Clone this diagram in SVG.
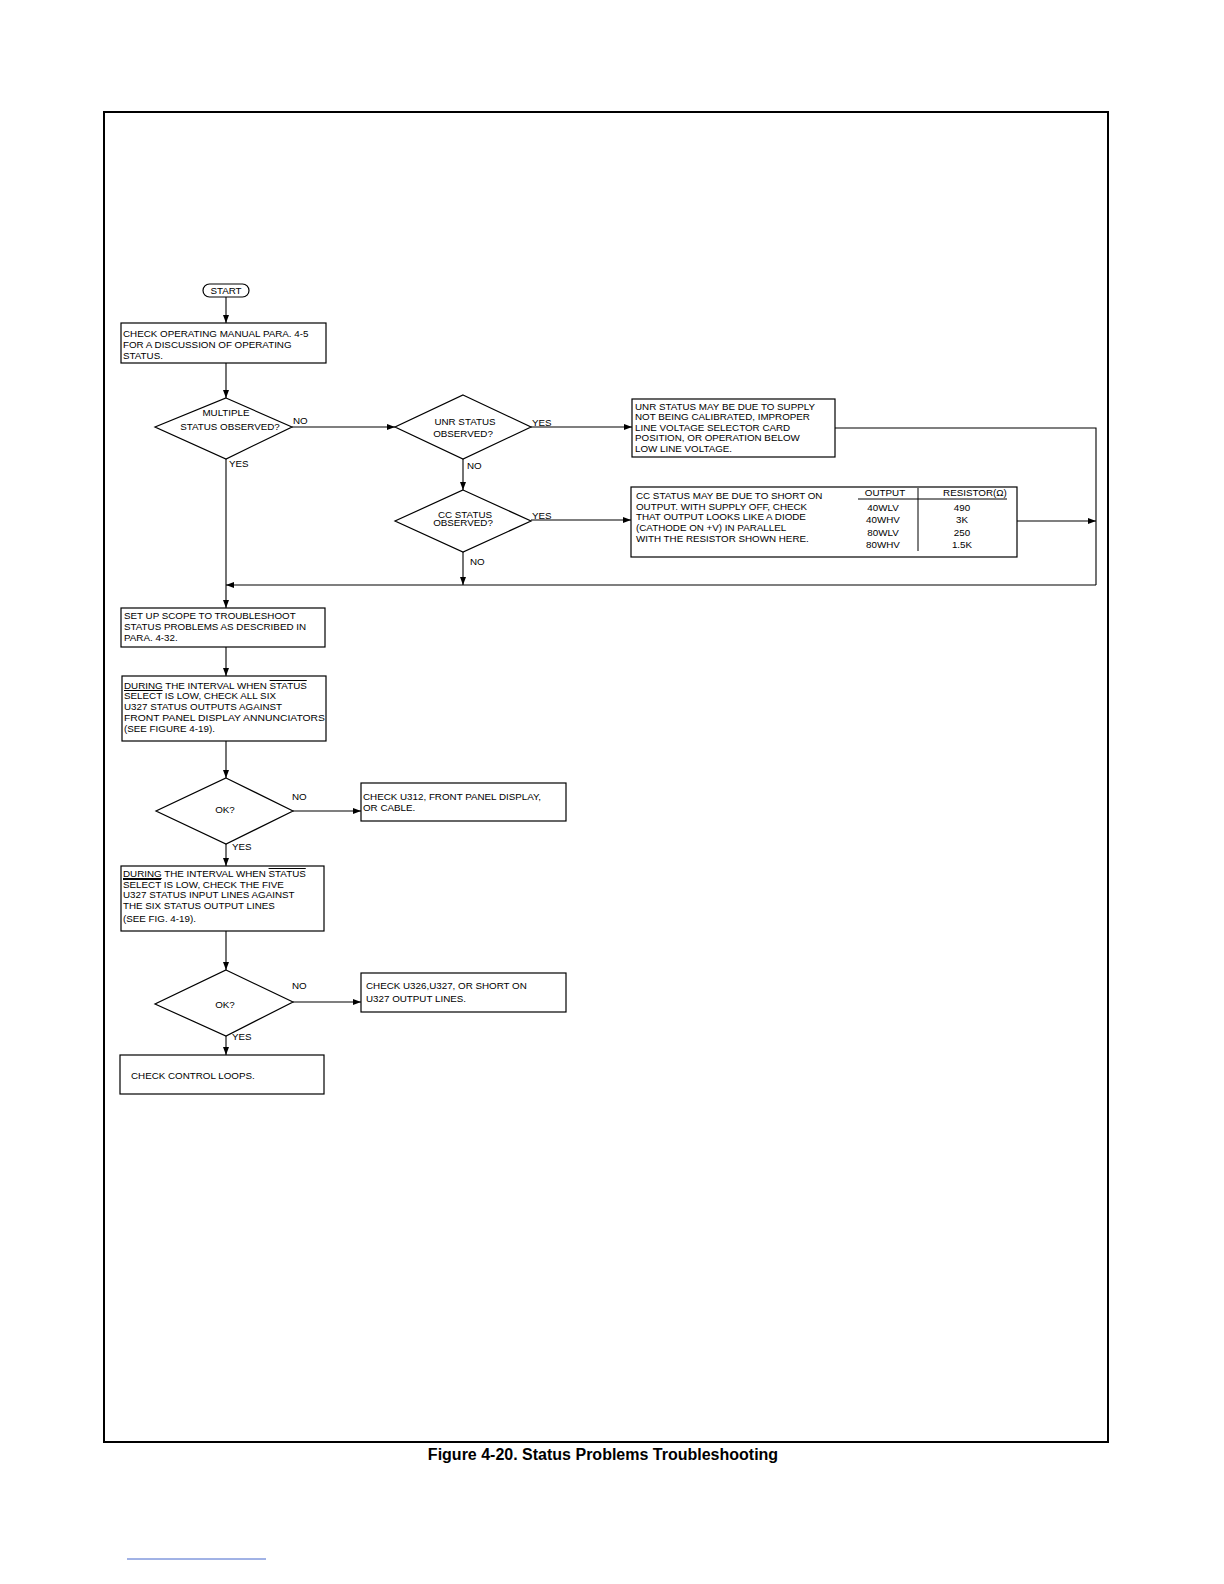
<svg xmlns="http://www.w3.org/2000/svg" width="1224" height="1584" viewBox="0 0 1224 1584">
<defs>
<marker id="ar" viewBox="0 0 8 6" refX="8" refY="3" markerWidth="8" markerHeight="6" orient="auto" markerUnits="userSpaceOnUse"><path d="M0,0 L8,3 L0,6 z" fill="#000"/></marker>
<style>
.b{fill:#fff;stroke:#000;stroke-width:1.2}
.c{fill:none;stroke:#000;stroke-width:1.1}
text{font-family:"Liberation Sans",Arial,sans-serif;font-size:9.8px;fill:#000}
.m{text-anchor:middle}
.cap{font-size:16px;font-weight:bold}
</style>
</defs>
<rect width="1224" height="1584" fill="#fff"/>
<rect x="104" y="112" width="1004" height="1330" fill="none" stroke="#000" stroke-width="2"/>
<text class="cap m" x="603" y="1460">Figure 4-20. Status Problems Troubleshooting</text>
<line x1="127" y1="1559" x2="266" y2="1559" stroke="#4466cc" stroke-width="1"/>

<g id="connectors">
<line class="c" x1="226" y1="297" x2="226" y2="323" marker-end="url(#ar)"/>
<line class="c" x1="226" y1="363" x2="226" y2="398" marker-end="url(#ar)"/>
<line class="c" x1="292" y1="427" x2="395" y2="427" marker-end="url(#ar)"/>
<line class="c" x1="531" y1="427" x2="632" y2="427" marker-end="url(#ar)"/>
<polyline class="c" points="835,428 1096,428 1096,585"/>
<line class="c" x1="463" y1="459" x2="463" y2="490" marker-end="url(#ar)"/>
<line class="c" x1="531" y1="520" x2="631" y2="520" marker-end="url(#ar)"/>
<line class="c" x1="1017" y1="521" x2="1096" y2="521" marker-end="url(#ar)"/>
<line class="c" x1="1096" y1="585" x2="226" y2="585" marker-end="url(#ar)"/>
<line class="c" x1="463" y1="552" x2="463" y2="585" marker-end="url(#ar)"/>
<line class="c" x1="226" y1="459" x2="226" y2="608" marker-end="url(#ar)"/>
<line class="c" x1="226" y1="647" x2="226" y2="676" marker-end="url(#ar)"/>
<line class="c" x1="226" y1="741" x2="226" y2="778" marker-end="url(#ar)"/>
<line class="c" x1="293" y1="811" x2="361" y2="811" marker-end="url(#ar)"/>
<line class="c" x1="226" y1="844" x2="226" y2="866" marker-end="url(#ar)"/>
<line class="c" x1="226" y1="931" x2="226" y2="970" marker-end="url(#ar)"/>
<line class="c" x1="293" y1="1002" x2="361" y2="1002" marker-end="url(#ar)"/>
<line class="c" x1="226" y1="1036" x2="226" y2="1055" marker-end="url(#ar)"/>
</g>

<g id="start"><rect class="b" x="203" y="284" width="46" height="13" rx="6.5"/><text class="m" x="226" y="294">START</text></g>

<g id="box1"><rect class="b" x="121" y="323" width="205" height="40"/>
<text x="123" y="337">CHECK OPERATING MANUAL PARA. 4-5</text>
<text x="123" y="348">FOR A DISCUSSION OF OPERATING</text>
<text x="123" y="359">STATUS.</text></g>

<g id="dMultiple"><polygon class="b" points="226,398 292,427 226,459 155,427"/>
<text class="m" x="226" y="416">MULTIPLE</text><text class="m" x="230" y="430">STATUS OBSERVED?</text></g>

<g id="dUnr"><polygon class="b" points="463,395 531,427 463,459 395,427"/>
<text class="m" x="465" y="425">UNR STATUS</text><text class="m" x="463" y="437">OBSERVED?</text></g>

<g id="boxUnr"><rect class="b" x="632" y="399" width="203" height="58"/>
<text x="635" y="410">UNR STATUS MAY BE DUE TO SUPPLY</text>
<text x="635" y="420">NOT BEING CALIBRATED, IMPROPER</text>
<text x="635" y="431">LINE VOLTAGE SELECTOR CARD</text>
<text x="635" y="441">POSITION, OR OPERATION BELOW</text>
<text x="635" y="452">LOW LINE VOLTAGE.</text></g>

<g id="dCc"><polygon class="b" points="463,490 531,521 463,552 395,521"/>
<text class="m" x="465" y="518">CC STATUS</text><text class="m" x="463" y="526">OBSERVED?</text></g>

<g id="boxCc"><rect class="b" x="631" y="487" width="386" height="70"/>
<text x="636" y="499">CC STATUS MAY BE DUE TO SHORT ON</text>
<text x="636" y="510">OUTPUT. WITH SUPPLY OFF, CHECK</text>
<text x="636" y="520">THAT OUTPUT LOOKS LIKE A DIODE</text>
<text x="636" y="531">(CATHODE ON +V) IN PARALLEL</text>
<text x="636" y="542">WITH THE RESISTOR SHOWN HERE.</text>
<line x1="858" y1="499" x2="1007" y2="499" stroke="#000" stroke-width="1"/>
<line x1="918" y1="488" x2="918" y2="551" stroke="#000" stroke-width="1"/>
<text class="m" x="885" y="496">OUTPUT</text><text class="m" x="975" y="496">RESISTOR(Ω)</text>
<text class="m" x="883" y="511">40WLV</text><text class="m" x="962" y="511">490</text>
<text class="m" x="883" y="523">40WHV</text><text class="m" x="962" y="523">3K</text>
<text class="m" x="883" y="536">80WLV</text><text class="m" x="962" y="536">250</text>
<text class="m" x="883" y="548">80WHV</text><text class="m" x="962" y="548">1.5K</text></g>

<g id="boxScope"><rect class="b" x="121" y="608" width="204" height="39"/>
<text x="124" y="619">SET UP SCOPE TO TROUBLESHOOT</text>
<text x="124" y="630">STATUS PROBLEMS AS DESCRIBED IN</text>
<text x="124" y="641">PARA. 4-32.</text></g>

<g id="boxDuring1"><rect class="b" x="122" y="676" width="204" height="65"/>
<text x="124" y="689"><tspan text-decoration="underline">DURING</tspan> THE INTERVAL WHEN <tspan text-decoration="overline">STATUS</tspan></text>
<text x="124" y="699"><tspan text-decoration="overline">SELECT</tspan> IS LOW, CHECK ALL SIX</text>
<text x="124" y="710">U327 STATUS OUTPUTS AGAINST</text>
<text x="124" y="721" textLength="201" lengthAdjust="spacingAndGlyphs">FRONT PANEL DISPLAY ANNUNCIATORS</text>
<text x="124" y="732">(SEE FIGURE 4-19).</text></g>

<g id="dOk1"><polygon class="b" points="226,778 293,811 226,844 156,811"/>
<text class="m" x="225" y="813">OK?</text></g>

<g id="boxU312"><rect class="b" x="361" y="783" width="205" height="38"/>
<text x="363" y="800">CHECK U312, FRONT PANEL DISPLAY,</text>
<text x="363" y="811">OR CABLE.</text></g>

<g id="boxDuring2"><rect class="b" x="121" y="866" width="203" height="65"/>
<text x="123" y="877"><tspan text-decoration="underline">DURING</tspan> THE INTERVAL WHEN <tspan text-decoration="overline">STATUS</tspan></text>
<text x="123" y="888"><tspan text-decoration="overline">SELECT</tspan> IS LOW, CHECK THE FIVE</text>
<text x="123" y="898">U327 STATUS INPUT LINES AGAINST</text>
<text x="123" y="909">THE SIX STATUS OUTPUT LINES</text>
<text x="123" y="922">(SEE FIG. 4-19).</text></g>

<g id="dOk2"><polygon class="b" points="226,970 293,1002 226,1036 155,1004"/>
<text class="m" x="225" y="1008">OK?</text></g>

<g id="boxU326"><rect class="b" x="361" y="973" width="205" height="39"/>
<text x="366" y="989">CHECK U326,U327, OR SHORT ON</text>
<text x="366" y="1002">U327 OUTPUT LINES.</text></g>

<g id="boxLoops"><rect class="b" x="120" y="1055" width="204" height="39"/>
<text x="131" y="1079">CHECK CONTROL LOOPS.</text></g>

<g id="labels">
<text x="293" y="424">NO</text>
<text x="532" y="426">YES</text>
<text x="467" y="469">NO</text>
<text x="532" y="519">YES</text>
<text x="470" y="565">NO</text>
<text x="229" y="467">YES</text>
<text x="292" y="800">NO</text>
<text x="232" y="850">YES</text>
<text x="292" y="989">NO</text>
<text x="232" y="1040">YES</text>
</g>
</svg>
